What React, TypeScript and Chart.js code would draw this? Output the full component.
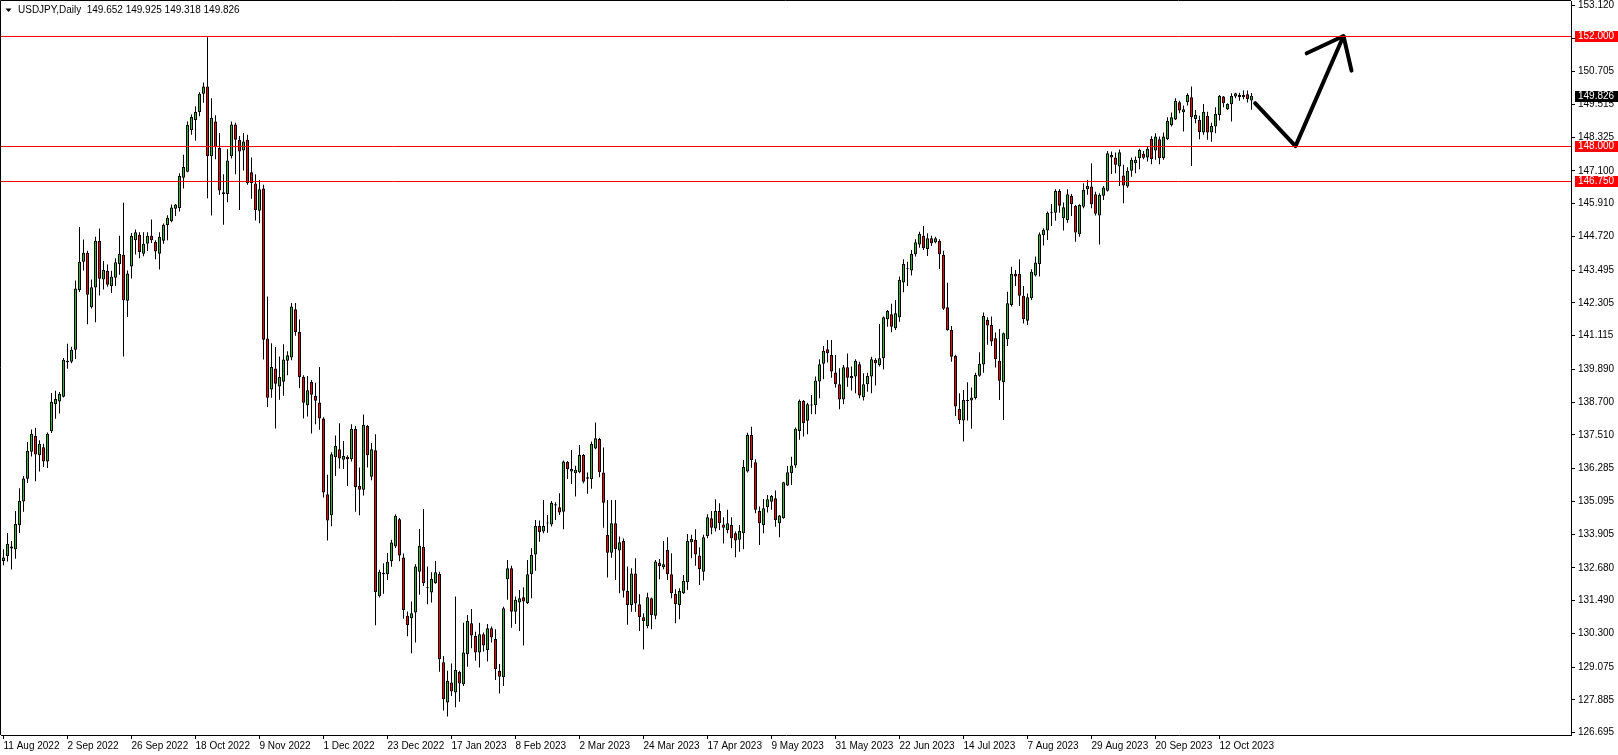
import { useEffect, useRef } from 'react';
import { Chart, registerables } from 'chart.js';

Chart.register(...registerables);

const FONT = "'Liberation Sans', Arial, sans-serif";
const UP = 'rgb(50,180,50)';
const DOWN = '#ff0000';

const symbolTitle = 'USDJPY,Daily';
const headerValues = '149.652 149.925 149.318 149.826';

const tickIdx = [0, 16, 32, 48, 64, 80, 96, 112, 128, 144, 160, 176, 192, 208, 224, 240, 256, 272, 288, 304];
const tickLabels = ['11 Aug 2022', '2 Sep 2022', '26 Sep 2022', '18 Oct 2022', '9 Nov 2022', '1 Dec 2022', '23 Dec 2022', '17 Jan 2023', '8 Feb 2023', '2 Mar 2023', '24 Mar 2023', '17 Apr 2023', '9 May 2023', '31 May 2023', '22 Jun 2023', '14 Jul 2023', '7 Aug 2023', '29 Aug 2023', '20 Sep 2023', '12 Oct 2023'];
const yTicks = [126.695, 127.885, 129.075, 130.3, 131.49, 132.68, 133.905, 135.095, 136.285, 137.51, 138.7, 139.89, 141.115, 142.305, 143.495, 144.72, 145.91, 147.1, 148.325, 149.515, 150.705, 151.91, 153.12];

const levelLines = [152.0, 148.0, 146.75];
const lastPrice = 149.826;

const arrowX = [312.9, 323, 335, 325.8, 330, 335, 337];
const arrowY = [149.56, 148.0, 152.0, 151.37, null, 152.0, 150.74];

const opens = [
  132.93,133.11,133.46,133.36,134.23,135.09,135.92,136.90,137.47,136.77,
  137.06,136.54,137.64,138.62,138.72,138.90,140.15,140.17,140.60,142.77,
  143.80,144.13,142.16,142.86,144.55,143.15,143.47,142.92,143.22,143.72,
  144.05,142.38,143.63,144.58,144.78,144.09,144.45,144.74,144.52,144.09,
  144.56,145.13,145.27,145.72,145.75,146.85,147.07,148.58,148.95,149.24,
  149.90,150.16,147.63,148.89,147.93,146.32,146.26,147.63,148.78,148.23,
  147.84,148.23,147.05,146.64,145.65,146.46,141.01,139.16,139.92,139.27,
  139.44,140.20,140.32,142.07,141.25,139.61,138.59,139.43,138.93,138.69,
  138.11,135.35,134.59,136.70,136.99,136.61,136.72,136.63,137.72,135.65,
  135.52,137.83,135.99,136.95,131.65,132.45,132.45,132.92,133.47,134.45,
  133.06,130.94,130.85,131.06,132.54,133.44,131.98,131.79,132.12,132.46,
  129.25,127.79,128.52,128.15,128.90,128.45,129.54,130.67,130.21,129.61,
  130.27,129.70,130.49,130.10,128.94,128.71,132.27,132.67,131.09,131.42,
  131.61,131.40,132.45,133.17,134.20,134.00,134.29,134.26,134.95,134.88,
  134.72,136.53,136.18,136.12,136.15,136.78,135.92,135.91,137.02,137.36,
  136.14,133.88,133.23,134.30,133.31,133.66,131.84,131.33,132.48,131.36,
  130.89,130.57,131.58,130.94,132.87,132.70,133.33,132.45,131.73,131.33,
  131.76,132.16,133.61,133.70,133.13,132.54,133.84,134.48,134.11,134.75,
  134.26,134.06,134.24,133.94,133.70,133.94,136.18,137.51,136.52,134.75,
  134.24,134.88,135.08,135.21,134.30,134.48,135.67,136.12,136.40,137.65,
  138.74,138.02,138.58,138.59,139.45,140.09,140.62,140.41,139.78,139.35,
  138.80,139.97,139.57,139.63,140.08,138.88,139.35,139.63,140.23,140.05,
  140.29,141.71,141.89,141.38,141.78,143.05,143.53,143.48,144.07,144.43,
  144.74,144.26,144.65,144.51,144.56,144.05,142.15,141.32,140.38,138.45,
  138.03,138.74,138.76,138.84,139.66,140.07,141.69,141.50,141.02,140.20,
  139.42,140.98,142.23,143.36,143.36,142.56,141.66,142.47,143.30,143.72,
  144.77,144.93,145.56,145.58,146.37,145.38,145.32,146.19,145.83,144.80,
  145.80,146.43,146.53,146.25,145.48,146.20,146.38,147.59,147.59,147.26,
  146.93,146.53,147.10,147.38,147.56,147.72,147.59,148.26,147.84,148.25,
  147.56,148.26,148.77,148.97,149.59,149.23,149.59,149.77,148.98,148.95,
  148.49,149.10,148.49,148.71,149.13,149.80,149.34,149.52,149.80,149.86,
  149.77,149.88,149.652,
];

const highs = [
  133.36,133.95,133.66,134.75,135.57,136.02,137.25,137.71,137.77,137.32,
  137.19,137.60,139.03,139.11,139.07,140.30,140.82,140.71,143.12,145.06,
  144.61,144.20,143.15,144.71,145.01,143.83,143.70,143.47,143.93,144.74,
  145.94,143.48,144.84,144.97,144.87,144.87,144.87,145.33,144.58,144.87,
  145.19,145.49,145.88,145.90,147.01,147.69,148.89,149.15,149.45,149.96,
  150.31,151.95,149.74,149.12,148.48,146.98,147.89,148.89,148.85,148.37,
  148.48,148.41,147.59,146.98,146.77,146.60,142.54,140.84,140.70,140.36,
  140.80,140.55,142.30,142.30,141.70,139.68,139.65,139.50,139.40,139.98,
  138.15,136.06,136.88,137.49,137.93,137.29,136.77,137.90,137.83,136.33,
  138.25,137.87,137.22,137.53,132.61,132.85,133.22,133.70,134.63,134.49,
  133.20,131.10,131.46,132.81,134.09,134.82,132.73,132.52,132.93,132.54,
  129.48,128.94,129.21,131.64,128.94,130.69,130.97,131.19,130.36,130.69,
  130.33,130.64,130.55,130.45,129.19,131.27,132.97,132.76,131.64,131.88,
  131.98,132.97,133.39,134.42,134.40,135.15,134.60,135.11,135.06,135.39,
  136.58,136.56,136.96,136.39,137.14,136.82,136.14,137.27,137.96,137.41,
  137.05,135.15,135.15,135.15,133.82,133.75,132.73,132.67,133.03,131.72,
  131.03,131.78,131.60,132.97,133.00,133.66,133.79,133.21,131.90,131.94,
  132.42,133.91,133.88,134.08,133.43,133.88,134.63,134.75,135.17,135.03,
  134.52,134.79,134.52,134.00,134.24,136.60,137.59,137.81,136.63,134.91,
  135.18,135.33,135.33,135.49,134.60,135.81,136.38,136.72,137.78,138.80,
  138.78,138.68,138.96,139.63,140.26,140.74,140.96,140.96,140.41,139.93,
  140.05,140.47,139.99,140.26,140.17,139.75,139.77,140.35,140.29,141.54,
  141.81,142.05,142.27,142.41,143.26,143.89,143.80,144.23,144.62,144.89,
  145.10,144.83,144.74,144.71,144.62,144.20,143.04,141.47,140.42,139.02,
  139.14,139.42,139.23,139.77,140.51,141.96,141.78,141.81,141.23,141.36,
  141.23,142.71,143.62,143.50,143.89,142.92,142.65,143.53,143.99,144.86,
  145.02,145.62,145.90,146.43,146.43,145.95,146.43,146.26,145.86,145.89,
  146.65,146.77,147.38,146.34,146.29,146.55,147.82,147.80,147.77,147.88,
  147.32,147.23,147.59,147.62,147.90,147.82,147.98,148.36,148.47,148.35,
  148.49,149.05,149.22,149.74,149.65,149.47,149.92,150.16,149.31,149.10,
  149.53,149.25,148.85,149.41,149.86,149.82,149.56,149.92,149.94,149.94,
  150.02,150.02,149.925,
];

const lows = [
  132.78,132.91,132.62,133.01,133.95,134.72,135.76,136.73,135.83,136.18,
  136.34,136.31,137.58,138.10,138.29,138.87,139.91,140.11,140.27,142.70,
  143.48,141.53,142.10,141.60,142.57,142.79,142.89,142.66,142.92,143.33,
  140.36,141.79,143.19,144.06,143.93,144.00,144.19,144.48,143.89,143.52,
  144.45,144.58,145.23,145.46,145.62,146.46,147.05,148.41,148.19,149.08,
  149.57,146.11,145.48,147.52,146.23,145.14,145.96,147.55,146.98,145.68,
  147.11,146.60,146.09,145.30,145.20,140.25,138.52,138.86,137.74,138.79,
  138.93,139.68,140.22,141.11,139.20,138.11,138.18,137.56,137.90,137.70,
  135.24,133.67,134.19,136.02,136.29,136.27,135.65,136.54,134.72,134.59,
  135.31,136.33,135.86,130.60,131.60,131.74,132.24,132.72,133.40,132.92,
  130.83,130.20,129.58,129.97,131.70,132.02,131.36,131.42,132.10,128.91,
  127.50,127.28,128.03,127.62,127.82,128.39,129.09,129.76,129.31,129.06,
  129.64,129.28,129.97,128.61,128.12,128.39,131.52,130.51,130.64,130.39,
  129.86,131.37,131.58,132.58,133.63,133.94,133.96,134.18,134.42,134.60,
  134.08,135.91,135.73,135.27,136.12,135.75,135.37,135.55,136.99,135.97,
  134.14,132.33,133.05,132.24,131.76,131.60,130.61,131.09,131.09,130.39,
  129.72,130.49,130.45,130.81,132.27,132.63,132.24,131.58,130.67,130.81,
  131.73,131.88,133.03,132.76,132.06,132.22,133.76,133.90,134.00,134.06,
  133.57,133.94,133.39,133.07,133.27,133.36,136.14,136.32,134.66,133.51,
  133.94,134.69,134.79,134.17,133.79,134.46,135.65,135.69,136.32,137.33,
  137.45,137.53,138.26,138.26,138.84,139.53,140.14,139.59,139.23,138.44,
  138.62,139.26,139.12,139.02,138.84,138.76,139.08,139.02,139.30,139.99,
  139.89,141.44,141.24,141.32,141.62,142.69,142.92,143.30,143.99,144.31,
  144.23,144.01,144.37,144.47,143.54,142.05,141.29,140.17,138.20,137.91,
  137.27,138.03,137.73,138.80,139.62,139.77,140.78,140.74,139.96,138.78,
  138.05,140.74,142.17,142.92,142.19,141.56,141.50,142.41,143.26,143.26,
  144.39,144.59,145.10,145.29,145.58,144.93,145.22,145.46,144.53,144.71,
  145.74,146.23,145.74,145.48,144.43,146.04,146.35,146.99,147.01,146.55,
  145.92,146.49,146.89,147.01,147.16,147.52,147.44,147.34,147.50,147.34,
  147.50,148.22,148.71,148.95,149.19,148.53,149.47,147.28,148.83,148.25,
  148.41,148.23,148.16,148.47,148.93,149.41,149.31,148.89,149.74,149.65,
  149.70,149.58,149.318,
];

const closes = [
  133.06,133.56,133.38,134.27,135.11,135.93,136.93,137.55,136.80,137.19,
  136.54,137.55,138.71,138.81,139.00,140.24,140.20,140.60,142.83,143.80,
  144.13,142.60,142.87,144.55,143.18,143.50,142.96,143.26,143.78,144.09,
  142.40,143.37,144.74,144.87,144.15,144.45,144.74,144.58,144.17,144.71,
  145.14,145.40,145.77,145.88,146.91,147.24,148.77,149.06,149.24,149.90,
  150.16,147.63,149.03,147.96,146.39,146.26,147.48,148.78,148.23,147.80,
  148.17,146.66,146.66,145.68,146.43,140.97,138.86,139.98,139.37,139.61,
  140.25,140.40,142.17,141.25,139.61,138.68,139.13,138.97,138.75,138.11,
  135.42,134.40,136.81,137.11,136.65,136.74,136.63,137.72,135.62,135.52,
  137.87,136.77,136.99,131.80,132.54,132.50,132.90,133.60,134.56,133.13,
  131.15,130.60,131.03,132.73,133.48,132.12,131.94,132.28,132.52,129.36,
  127.91,128.57,128.19,128.97,128.48,129.61,130.75,130.22,129.61,130.27,
  129.86,130.49,130.15,129.00,128.73,131.21,132.67,131.09,131.52,131.58,
  131.46,132.45,133.15,134.20,133.97,134.20,134.31,135.05,134.99,134.69,
  136.54,136.26,136.27,136.24,136.78,135.81,135.97,137.18,137.39,136.15,
  135.05,133.23,134.30,133.36,133.61,131.85,131.33,132.48,131.39,130.89,
  130.75,131.61,130.97,132.91,132.75,132.81,132.45,131.76,131.37,131.84,
  132.21,133.66,133.73,133.17,132.63,133.79,134.52,134.14,134.75,134.30,
  134.14,134.30,133.76,133.67,134.02,136.34,137.51,136.60,134.79,134.30,
  134.85,135.17,135.29,134.42,134.58,135.79,136.15,136.40,137.73,138.74,
  137.93,138.62,138.60,139.49,140.08,140.57,140.48,139.81,139.35,138.80,
  139.97,139.59,139.65,140.20,138.94,139.35,139.65,140.26,140.11,140.29,
  141.78,142.01,141.44,141.93,143.14,143.72,143.56,144.08,144.51,144.81,
  144.29,144.65,144.47,144.65,144.07,142.09,141.32,140.35,138.54,138.05,
  138.78,138.77,138.87,139.69,140.09,141.83,141.48,140.90,140.26,139.48,
  141.20,142.29,143.36,143.26,142.56,141.71,142.51,143.44,143.77,144.80,
  144.96,145.58,145.60,146.37,145.83,145.78,146.25,145.89,144.86,145.86,
  146.41,146.55,145.89,145.54,146.23,146.50,147.74,147.68,147.32,147.78,
  146.57,147.10,147.50,147.50,147.86,147.58,147.90,147.53,148.35,147.56,
  148.35,148.91,149.05,149.65,149.29,149.34,149.86,149.05,149.13,148.50,
  149.25,148.49,148.73,149.17,149.82,149.56,149.53,149.82,149.92,149.77,
  149.86,149.71,149.826,
];

export default function App() {
  const ref = useRef<HTMLCanvasElement>(null);

  useEffect(() => {
    const canvas = ref.current;
    if (!canvas) return;

    const bodies = opens.map((o, i) => ({ x: i, y: [o, closes[i]] }));
    const wicks = lows.map((l, i) => ({ x: i, y: [l, highs[i]] }));
    const bodyColors = opens.map((o, i) => (closes[i] >= o ? UP : DOWN));
    const arrow = arrowX.map((x, i) => ({ x, y: arrowY[i] }));

    const overlay = {
      id: 'overlay',
      afterDraw(chart: any) {
        const { ctx, chartArea: a } = chart;
        const y = chart.scales.y;
        ctx.save();
        // frame
        ctx.strokeStyle = '#000';
        ctx.lineWidth = 1;
        ctx.beginPath();
        ctx.moveTo(a.left - 0.5, a.bottom);
        ctx.lineTo(a.left - 0.5, a.top - 0.5);
        ctx.lineTo(a.right, a.top - 0.5);
        ctx.stroke();
        // horizontal levels
        ctx.strokeStyle = '#ff0000';
        levelLines.forEach((v) => {
          const py = Math.round(y.getPixelForValue(v)) + 0.5;
          ctx.beginPath();
          ctx.moveTo(a.left, py);
          ctx.lineTo(a.right, py);
          ctx.stroke();
        });
        // axis tags
        const tag = (v: number, bg: string) => {
          const py = Math.round(y.getPixelForValue(v));
          ctx.fillStyle = bg;
          ctx.fillRect(a.right + 4, py - 5, 50, 11);
          ctx.fillStyle = '#fff';
          ctx.font = `10px ${FONT}`;
          ctx.textAlign = 'left';
          ctx.textBaseline = 'middle';
          ctx.fillText(v.toFixed(3), a.right + 7, py + 0.5);
        };
        levelLines.forEach((v) => tag(v, '#ff0000'));
        tag(lastPrice, '#000');
        // header
        ctx.fillStyle = '#000';
        ctx.beginPath();
        ctx.moveTo(5.5, 8.5);
        ctx.lineTo(11.5, 8.5);
        ctx.lineTo(8.5, 12);
        ctx.closePath();
        ctx.fill();
        ctx.font = `10px ${FONT}`;
        ctx.textAlign = 'left';
        ctx.textBaseline = 'middle';
        ctx.fillText(symbolTitle, 18, 10.5);
        const w = ctx.measureText(symbolTitle + '  ').width;
        ctx.fillText(headerValues, 18 + w, 10.5);
        ctx.restore();
      },
    };

    const zeroPad = (s: any) => {
      s.paddingLeft = 0;
      s.paddingRight = 0;
      s.paddingTop = 0;
      s.paddingBottom = 0;
    };

    const chart = new Chart(canvas, {
      type: 'bar',
      data: {
        datasets: [
          {
            type: 'line',
            data: arrow as any,
            borderColor: '#000',
            borderWidth: 4,
            pointRadius: 0,
            spanGaps: false,
            tension: 0,
            borderJoinStyle: 'round',
            borderCapStyle: 'round',
            order: 0,
          } as any,
          {
            data: bodies as any,
            backgroundColor: bodyColors,
            borderColor: '#000',
            borderWidth: 1,
            borderSkipped: false,
            barThickness: 3,
            grouped: false,
            minBarLength: 1,
            inflateAmount: 0,
            order: 1,
          } as any,
          {
            data: wicks as any,
            backgroundColor: '#000',
            borderWidth: 0,
            barThickness: 1,
            grouped: false,
            inflateAmount: 0,
            order: 2,
          } as any,
        ],
      },
      options: {
        responsive: false,
        animation: false,
        devicePixelRatio: 1,
        events: [],
        layout: { padding: { top: 1, left: 1, right: 0, bottom: 0 } },
        plugins: {
          legend: { display: false },
          tooltip: { enabled: false },
        },
        scales: {
          x: {
            type: 'linear',
            min: -0.625,
            max: 391.875,
            offset: false,
            afterBuildTicks: (s: any) => {
              s.ticks = tickIdx.map((v) => ({ value: v }));
            },
            afterFit: (s: any) => {
              s.height = 20;
              zeroPad(s);
            },
            ticks: {
              autoSkip: false,
              maxRotation: 0,
              minRotation: 0,
              align: 'start',
              padding: 1,
              color: '#000',
              font: { family: FONT, size: 10 },
              callback: (_v: any, idx: number) => tickLabels[idx],
            },
            grid: { drawOnChartArea: false, drawTicks: true, tickLength: 4, color: '#000', offset: false },
            border: { display: true, color: '#000', width: 1 },
          } as any,
          y: {
            type: 'linear',
            position: 'right',
            min: 126.61,
            max: 153.27,
            beginAtZero: false,
            afterBuildTicks: (s: any) => {
              s.ticks = yTicks.map((v) => ({ value: v }));
            },
            afterFit: (s: any) => {
              s.width = 47;
              zeroPad(s);
            },
            ticks: {
              padding: 3,
              color: '#000',
              font: { family: FONT, size: 10 },
              callback: (v: any) => Number(v).toFixed(3),
            },
            grid: { drawOnChartArea: false, drawTicks: true, tickLength: 4, color: '#000' },
            border: { display: true, color: '#000', width: 1 },
          } as any,
        },
      },
      plugins: [overlay],
    } as any);

    return () => chart.destroy();
  }, []);

  return (
    <div style={{ position: 'fixed', left: 0, top: 0, width: 1618, height: 755, background: '#fff' }}>
      <canvas ref={ref} width={1618} height={755} style={{ display: 'block', width: 1618, height: 755 }} />
    </div>
  );
}
